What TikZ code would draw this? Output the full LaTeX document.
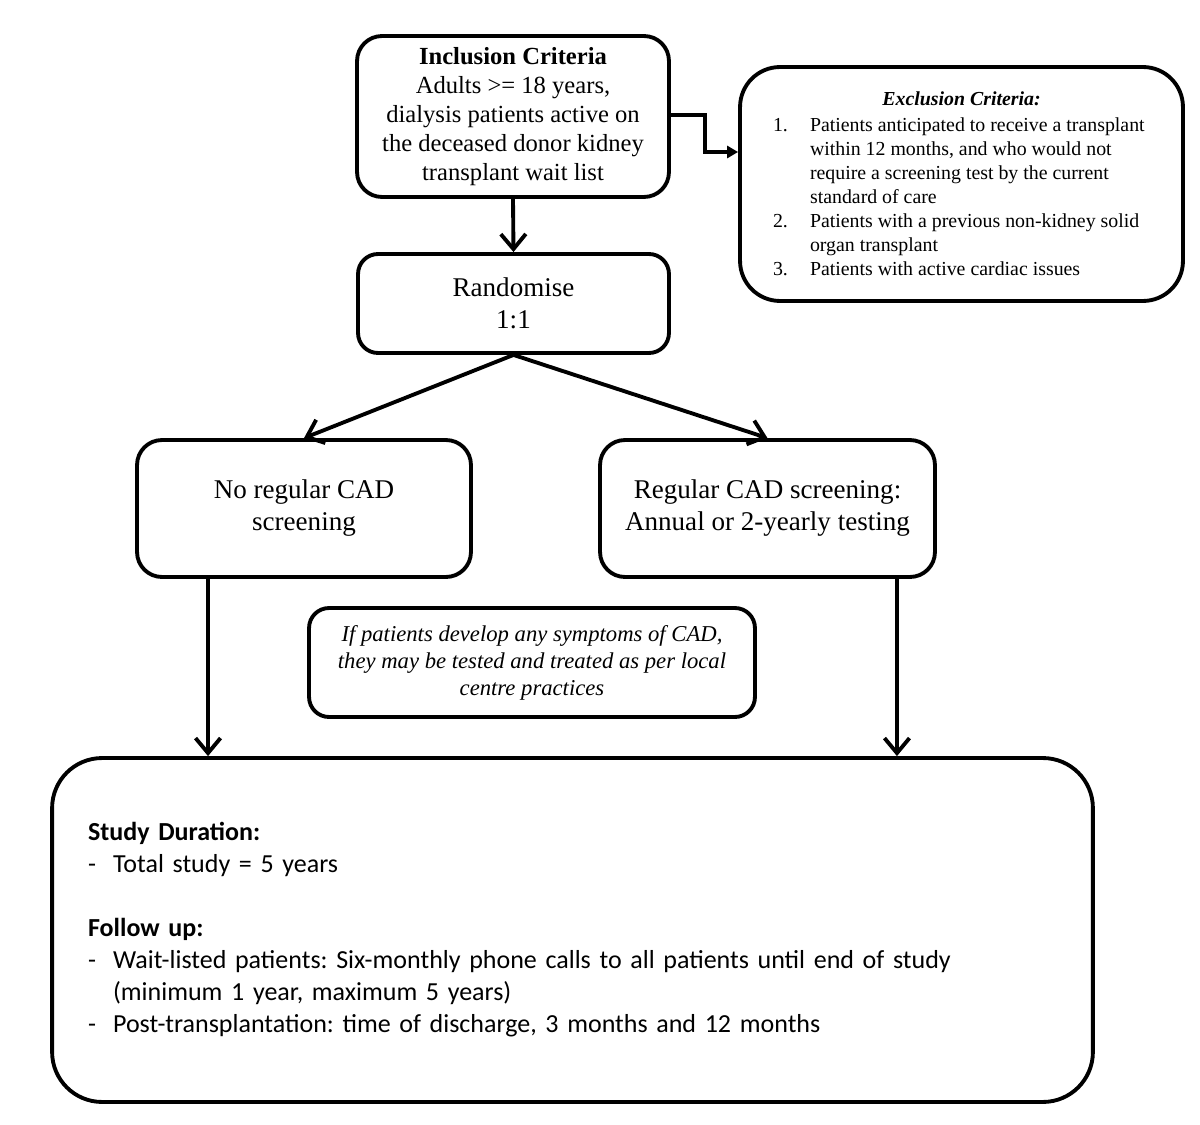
\documentclass[tikz,border=0pt]{standalone}
\usepackage{fontspec}
\setmainfont{Liberation Serif}
\newfontfamily\calibri{Carlito}
\usetikzlibrary{arrows.meta}
\frenchspacing
\begin{document}
\begin{tikzpicture}[x=0.02cm,y=-0.02cm,
  box/.style={draw, line width=2.2pt, rounded corners=0.5cm, align=center, inner sep=0pt},
  arr/.style={line width=2.2pt, -{Straight Barb[length=0.3cm,width=0.5cm]}},
  farr/.style={line width=2.2pt, -{Triangle[length=0.22cm,width=0.24cm]}},
  incfont/.style={font=\fontsize{14}{16.5}\selectfont},
  midfont/.style={font=\fontsize{15.4}{18.2}\selectfont},
  excfont/.style={font=\fontsize{11.3}{13.7}\selectfont},
  notefont/.style={font=\fontsize{12.9}{15.4}\selectfont\itshape},
  botfont/.style={font=\calibri\fontsize{14.8}{18.2}\selectfont}]
\useasboundingbox (0,0) rectangle (1200,1125);

\node[box, incfont, minimum width=6.24cm, minimum height=3.22cm] (inc) at (513,116.5)
  {\textbf{Inclusion Criteria}\\Adults >= 18 years,\\dialysis patients active on\\the deceased donor kidney\\transplant wait list};

\node[box, excfont, rounded corners=0.8cm, minimum width=8.86cm, minimum height=4.68cm,
      align=left] (exc) at (961.5,184)
  {\makebox[7.54cm][c]{\textbf{\textit{Exclusion Criteria:}}}\\[1pt]
   \makebox[0.74cm][l]{1.}Patients anticipated to receive a transplant\\
   \hspace*{0.74cm}within 12 months, and who would not\\
   \hspace*{0.74cm}require a screening test by the current\\
   \hspace*{0.74cm}standard of care\\
   \makebox[0.74cm][l]{2.}Patients with a previous non-kidney solid\\
   \hspace*{0.74cm}organ transplant\\
   \makebox[0.74cm][l]{3.}Patients with active cardiac issues};

\node[box, midfont, rounded corners=0.4cm, minimum width=6.22cm, minimum height=1.98cm] (rand) at (513.5,303.5)
  {Randomise\\1:1};

\node[box, midfont, minimum width=6.68cm, minimum height=2.74cm] (noreg) at (304,508.5)
  {No regular CAD\\screening};

\node[box, midfont, minimum width=6.7cm, minimum height=2.74cm] (reg) at (767.5,508.5)
  {Regular CAD screening:\\Annual or 2-yearly testing};

\node[box, notefont, rounded corners=0.4cm, minimum width=8.92cm, minimum height=2.18cm] (note) at (532,662.5)
  {If patients develop any symptoms of CAD,\\they may be tested and treated as per local\\centre practices};

\node[box, botfont, rounded corners=1cm, minimum width=20.82cm, minimum height=6.88cm,
      text width=19.38cm, align=left] (bot) at (572.5,930)
  {\textbf{Study Duration:}\\
   \makebox[0.5cm][l]{-}Total study = 5 years\\[18.2pt]
   \textbf{Follow up:}\\
   \makebox[0.5cm][l]{-}Wait-listed patients: Six-monthly phone calls to all patients until end of study\\
   \hspace*{0.5cm}(minimum 1 year, maximum 5 years)\\
   \makebox[0.5cm][l]{-}Post-transplantation: time of discharge, 3 months and 12 months};

\coordinate (k1) at (705,115);
\coordinate (k2) at (705,152);
\draw[farr] (inc.east |- k1) -- (k1) -- (k2) -- (exc.west |- k2);
\draw[arr] (inc.south) -- (rand.north);
\draw[arr] (rand.south) -- (noreg.north);
\draw[arr] (rand.south) -- (reg.north);
\draw[arr] ([xshift=-1.92cm]noreg.south) -- ([xshift=-1.92cm]noreg.south |- bot.north);
\draw[arr] ([xshift=2.59cm]reg.south) -- ([xshift=2.59cm]reg.south |- bot.north);
\end{tikzpicture}
\end{document}
